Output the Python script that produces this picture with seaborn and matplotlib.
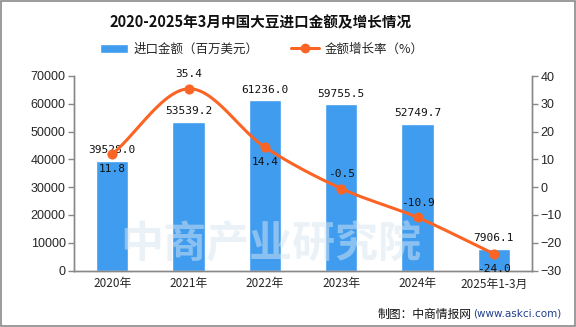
import numpy as np
import pandas as pd
import matplotlib
matplotlib.use("Agg")
import matplotlib.pyplot as plt
import seaborn as sns

categories = ["2020年", "2021年", "2022年", "2023年", "2024年", "2025年1-3月"]
import_value = [39528.0, 53539.2, 61236.0, 59755.5, 52749.7, 7906.1]
growth_rate = [11.8, 35.4, 14.4, -0.5, -10.9, -24.0]
rate_label_above = [False, True, False, True, True, False]

sns.set_theme(style="white")
plt.rcParams["font.family"] = ["Noto Sans CJK SC", "DejaVu Sans"]

BAR_C = "#3f9cef"
LINE_C = "#fb6424"
AX_C = "#888888"

fig = plt.figure(figsize=(5.76, 3.27), dpi=100)
ax = fig.add_axes([74/576, 1-270.5/327, (532-74)/576, (270.5-76)/327])
ax2 = ax.twinx()

df = pd.DataFrame({"cat": categories, "val": import_value, "rate": growth_rate})
sns.barplot(data=df, x="cat", y="val", color=BAR_C, width=0.42, saturation=1, ax=ax, zorder=2)
ax.set_xlim(-0.5, len(categories)-0.5)
ax.set_ylim(0, 70000)
ax.set_yticks(np.arange(0, 70001, 10000))
ax.set_xlabel(""); ax.set_ylabel("")

# smooth curve (Catmull-Rom through data points)
x = np.arange(len(growth_rate), dtype=float)
y = np.array(growth_rate)
px = np.concatenate([[2*x[0]-x[1]], x, [2*x[-1]-x[-2]]])
py = np.concatenate([[2*y[0]-y[1]], y, [2*y[-1]-y[-2]]])
sx, sy = [], []
t = np.linspace(0, 1, 30)
for i in range(1, len(px)-2):
    p0, p1, p2, p3 = [np.array([px[j], py[j]]) for j in (i-1, i, i+1, i+2)]
    for tt in t:
        pt = 0.5*((2*p1) + (-p0+p2)*tt + (2*p0-5*p1+4*p2-p3)*tt**2 + (-p0+3*p1-3*p2+p3)*tt**3)
        sx.append(pt[0]); sy.append(pt[1])
ax2.plot(sx, sy, color=LINE_C, lw=2.2, zorder=3)
sns.scatterplot(x=x, y=y, color=LINE_C, s=45, edgecolor=LINE_C, ax=ax2, zorder=4, legend=False)
ax2.set_ylim(-30, 40)
ax2.set_yticks(np.arange(-30, 41, 10))
ax2.set_yticklabels([str(v).replace("-", "−") for v in range(-30, 41, 10)])

for a in (ax, ax2):
    a.spines["top"].set_visible(False)
    for s in ("left", "right", "bottom"):
        a.spines[s].set_color(AX_C)
        a.spines[s].set_linewidth(1.0)
    a.tick_params(axis="both", length=4, width=1, color=AX_C, labelsize=9, pad=2, direction="out")
ax.set_xticks(np.arange(len(categories)))
ax.set_xticklabels(categories)
ax.set_xticks(np.arange(-0.5, len(categories), 1.0), minor=True)
ax.set_xticklabels([""] * len(np.arange(-0.5, len(categories), 1.0)), minor=True)
ax.tick_params(axis="x", which="major", length=0, labelsize=8.5, pad=5)
ax.tick_params(axis="x", which="minor", length=4, color=AX_C, width=1)
ax.grid(False); ax2.grid(False)
for lab in ax.get_yticklabels() + ax2.get_yticklabels():
    lab.set_family(["Liberation Sans", "DejaVu Sans"])

# labels
for i, v in enumerate(import_value):
    ax.annotate(f"{v:.1f}", (i, v), xytext=(0, 4), textcoords="offset points",
                ha="center", va="bottom", fontsize=8, color="#111111",
                family=["DejaVu Sans Mono", "DejaVu Sans"], zorder=6)
for i, v in enumerate(growth_rate):
    off = 7 if rate_label_above[i] else -7
    ax2.annotate(f"{v:.1f}", (i, v), xytext=(0, off), textcoords="offset points",
                 ha="center", va="bottom" if rate_label_above[i] else "top",
                 fontsize=8, color="#111111", family=["DejaVu Sans Mono", "DejaVu Sans"], zorder=6)

# watermark
fig.text(0.47, 0.255, "中商产业研究院", fontsize=31, color="#d6e6f2", alpha=0.5,
         ha="center", va="center", weight="bold", zorder=0)

# title
fig.text(0.453, 1-22/327, "2020-2025年3月中国大豆进口金额及增长情况", ha="center", va="center",
         fontsize=10.5, weight="bold", color="#111111")

# legend
from matplotlib.patches import Patch
from matplotlib.lines import Line2D
handles = [Patch(facecolor=BAR_C, label="进口金额（百万美元）"),
           Line2D([0], [0], color=LINE_C, lw=2.2, marker="o", markersize=6, label="金额增长率（%）")]
fig.legend(handles=handles, loc="center", bbox_to_anchor=(0.455, 1-49/327), ncol=2, frameon=False,
           fontsize=9, handlelength=2.2, columnspacing=2.6, handletextpad=0.5)

# source
fig.text(0.655, 1-314/327, "制图：中商情报网", ha="left", va="center", fontsize=8.5, color="#111111")
fig.text(0.822, 1-314/327, "(www.askci.com)", ha="left", va="center", fontsize=7.5,
         color="#1f3f8f", family=["DejaVu Sans"])

# border
fig.patches.append(plt.Rectangle((0.001, 0.002), 0.997, 0.995, transform=fig.transFigure,
                                 fill=False, edgecolor="#8a8a8a", lw=1.2))

fig.savefig("out.png", dpi=100)
